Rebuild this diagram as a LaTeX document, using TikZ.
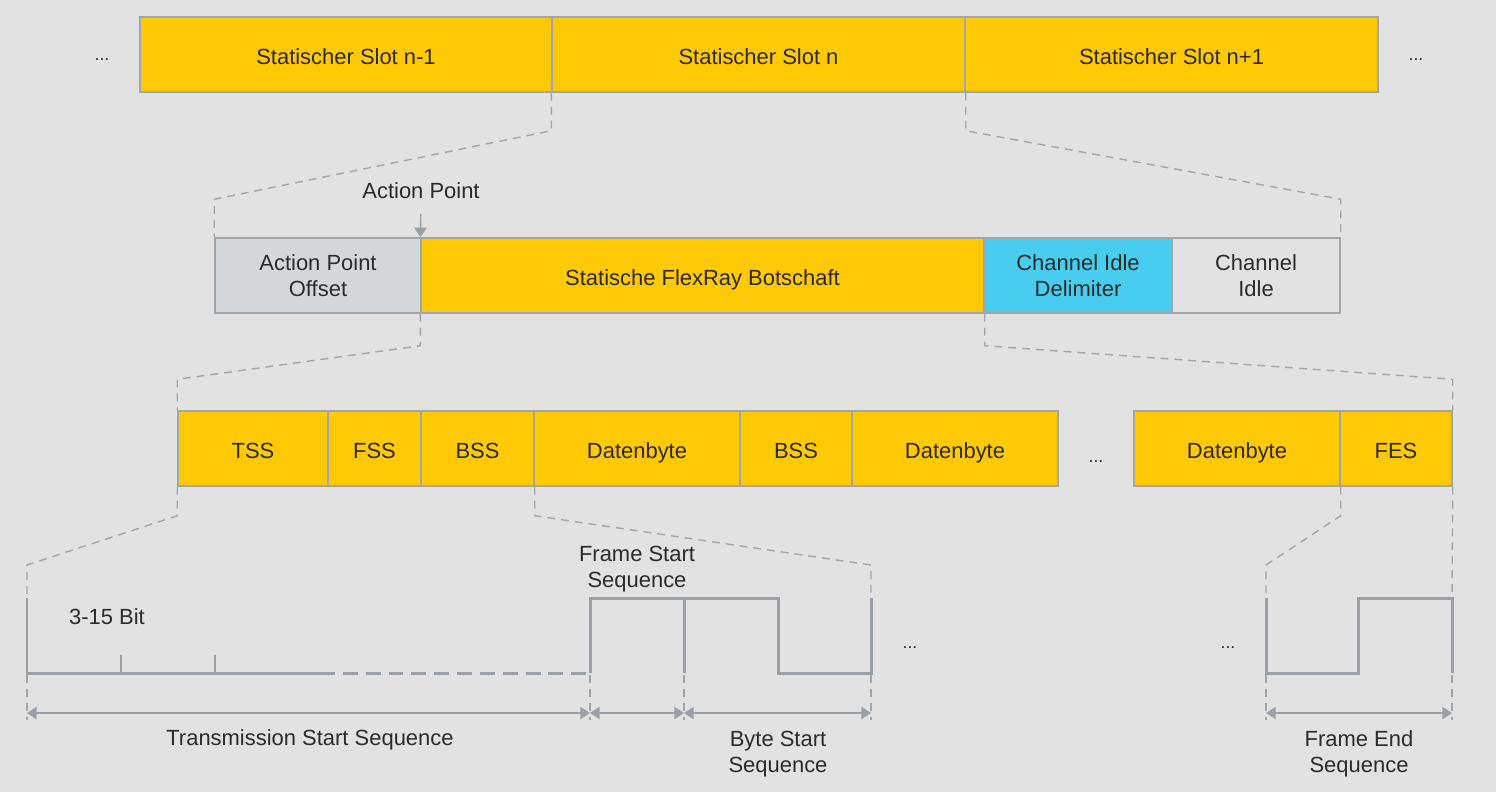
\documentclass[tikz,border=0pt]{standalone}
\usepackage{fontspec}
\setmainfont{Liberation Sans}
\usetikzlibrary{arrows.meta,calc}
\definecolor{bg}{HTML}{E2E2E2}
\definecolor{slotyellow}{HTML}{FFC905}
\definecolor{idlecyan}{HTML}{48CDEF}
\definecolor{apogray}{HTML}{D5D8DB}
\definecolor{boxline}{HTML}{A3A6A8}
\definecolor{waveline}{HTML}{9AA0A5}
\definecolor{txt}{HTML}{2B2B2B}
\tikzset{
  field/.style={rectangle, draw=boxline, line width=0.85pt, minimum height=1.5cm, inner sep=0pt, text=txt, align=center, font=\fontsize{12.5}{14.7}\selectfont},
  oneline/.style={field, fill=slotyellow, text height=11pt, text depth=0pt},
  caption/.style={text=txt, align=center, font=\fontsize{12.5}{14.7}\selectfont},
  dots/.style={text=txt, font=\fontsize{10}{12}\selectfont},
  zoomline/.style={draw=boxline, line width=0.8pt, dash pattern=on 4.5pt off 3.4pt},
  wave/.style={draw=waveline, line width=1.7pt},
  dimline/.style={draw=waveline, line width=0.8pt, {Triangle[length=5.5pt,width=7pt]}-{Triangle[length=5.5pt,width=7pt]}},
}
\begin{document}
\begin{tikzpicture}[x=0.02cm, y=-0.02cm]
    \fill[bg] (0,0) rectangle (1496,792);

    \node[oneline, minimum width=8.24cm] (slotprev) at (346,54.5) {Statischer Slot n-1};
    \node[oneline, minimum width=8.26cm] (slotcur)  at (758.5,54.5) {Statischer Slot n};
    \node[oneline, minimum width=8.26cm] (slotnext) at (1171.5,54.5) {Statischer Slot n+1};
    \node[dots] (dotsprev) at (102,60) {...};
    \node[dots] (dotsnext) at (1416,60) {...};

    \node[field, fill=apogray,  minimum width=4.12cm]  (apo)  at (318,275.5)  {Action Point\\Offset};
    \node[oneline,              minimum width=11.26cm] (msg)  at (702.5,275.5) {Statische FlexRay Botschaft};
    \node[field, fill=idlecyan, minimum width=3.76cm]  (cid)  at (1078,275.5) {Channel Idle\\Delimiter};
    \node[field,                minimum width=3.36cm]  (idle) at (1256,275.5) {Channel\\Idle};
    \node[caption] (aplbl) at (421,191) {Action Point};

    \node[oneline, minimum width=3cm]    (tss)  at (253,448.5)   {TSS};
    \node[oneline, minimum width=1.86cm] (fss)  at (374.5,448.5) {FSS};
    \node[oneline, minimum width=2.26cm] (bssa) at (477.5,448.5) {BSS};
    \node[oneline, minimum width=4.12cm] (data) at (637,448.5)   {Datenbyte};
    \node[oneline, minimum width=2.24cm] (bssb) at (796,448.5)   {BSS};
    \node[oneline, minimum width=4.12cm] (datb) at (955,448.5)   {Datenbyte};
    \node[dots] (dotsbytes) at (1096,462) {...};
    \node[oneline, minimum width=4.12cm] (datn) at (1237,448.5)  {Datenbyte};
    \node[oneline, minimum width=2.24cm] (fes)  at (1396,448.5)  {FES};

    \draw[draw=waveline, line width=0.8pt, shorten <=5pt, -{Triangle[length=5.5pt,width=7pt]}] (aplbl.south) -- (msg.north west);

    \draw[zoomline] (slotcur.south west) -- ++(0,38) -- ([yshift=0.76cm]apo.north west) -- (apo.north west);
    \draw[zoomline] (slotcur.south east) -- ++(0,38) -- ([yshift=0.76cm]idle.north east) -- (idle.north east);
    \draw[zoomline] (msg.south west) -- ++(0,32) -- ([yshift=0.62cm]tss.north west) -- (tss.north west);
    \draw[zoomline] (msg.south east) -- ++(0,32) -- ([yshift=0.62cm]fes.north east) -- (fes.north east);

    \coordinate (tsstop)   at (27,598);
    \coordinate (bssend)   at (871,598);
    \coordinate (fesstart) at (1266,598);
    \coordinate (fesend)   at (1452,598);

    \draw[zoomline] (tss.south west) -- ++(0,29) -- ([yshift=0.66cm]tsstop) -- (tsstop);
    \draw[zoomline] (bssa.south east) -- ++(0,29) -- ([yshift=0.66cm]bssend) -- (bssend);
    \draw[zoomline] (datn.south east) -- ++(0,29) -- ([yshift=0.66cm]fesstart) -- (fesstart);
    \draw[zoomline] (fes.south east) -- (fesend);

    \draw[wave] (tsstop) -- (27,673) -- (320,673);
    \draw[wave, dash pattern=on 8.5pt off 4.5pt] (320,673) -- (590,673);
    \draw[wave] (121,655) -- (121,673);
    \draw[wave] (215,655) -- (215,673);
    \draw[wave] (590,673) -- (590,598) -- (778,598) -- (778,673) -- (871,673) -- (bssend);
    \draw[wave] (684,598) -- (684,673);
    \draw[wave] (fesstart) -- (1266,673) -- (1358,673) -- (1358,598) -- (fesend) -- (1452,673);

    \foreach \x in {27,590,684,871,1266,1452}
        \draw[zoomline] (\x,675) -- (\x,720);

    \coordinate (m0) at (27,713);
    \coordinate (m1) at (590,713);
    \coordinate (m2) at (684,713);
    \coordinate (m3) at (871,713);
    \coordinate (m4) at (1266,713);
    \coordinate (m5) at (1452,713);
    \draw[dimline] (m0) -- (m1);
    \draw[dimline] (m1) -- (m2);
    \draw[dimline] (m2) -- (m3);
    \draw[dimline] (m4) -- (m5);

    \node[caption] (bitlbl) at (107,617) {3-15 Bit};
    \node[caption] (fsslbl) at (637,569) {Frame Start\\Sequence};
    \node[caption] (tsslbl) at (310,740) {Transmission Start Sequence};
    \node[caption] (bsslbl) at (778,754) {Byte Start\\Sequence};
    \node[caption] (feslbl) at (1359,754) {Frame End\\Sequence};
    \node[dots] (dotswave) at (910,648) {...};
    \node[dots] (dotsfes)  at (1228,648) {...};
\end{tikzpicture}
\end{document}
